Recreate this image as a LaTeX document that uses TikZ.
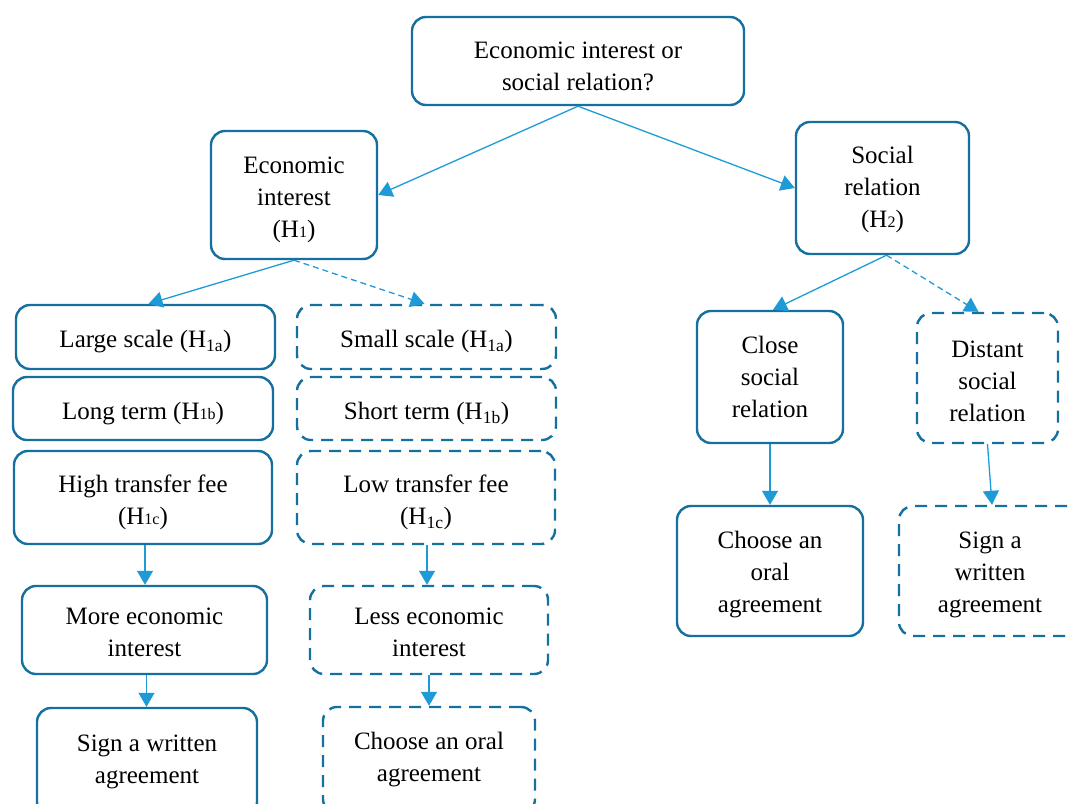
\documentclass[tikz,border=0pt]{standalone}
\usepackage{fontspec}
\setmainfont{Liberation Serif}
\usetikzlibrary{arrows.meta,calc}
\definecolor{boxblue}{HTML}{1570A0}
\definecolor{arrblue}{HTML}{1E9BD7}
\newcommand\fs{\fontsize{25}{32}\selectfont}
\newcommand\sm[1]{{\fontsize{16}{16}\selectfont #1}}
\newcommand\sub[1]{\textsubscript{#1}}
\newcommand\T[1][26pt]{\rule{0pt}{#1}}
\tikzset{
  box/.style={draw=boxblue, line width=2.4pt, rounded corners=14pt, align=center, inner sep=0pt, font=\fs},
  dbox/.style={box, dash pattern=on 12pt off 8pt},
  arr/.style={draw=arrblue, line width=1.3pt, -{Triangle[length=14pt,width=16pt]}},
  darr/.style={arr, dash pattern=on 6pt off 4pt},
}
\begin{document}
\begin{tikzpicture}[x=1pt,y=-1pt]
\useasboundingbox (0,0) rectangle (1070,803);
\node[box, minimum width=332pt, minimum height=88pt] (top) at (578,61) {\T[28pt]Economic interest or\\social relation?};
\node[box, minimum width=166pt, minimum height=128pt] (econ) at (294,195) {\T[27pt]Economic\\interest\\(H\sm{1})};
\node[box, minimum width=173pt, minimum height=132pt] (soc) at (882.5,188) {\T[21pt]Social\\relation\\(H\sm{2})};
\node[box, minimum width=259pt, minimum height=64pt] (ls) at (145.5,337) {\T[27pt]Large scale (H\sub{1a})};
\node[box, minimum width=260pt, minimum height=63pt] (lt) at (143,408.5) {\T[27pt]Long term (H\sm{1b})};
\node[box, minimum width=258pt, minimum height=93pt] (ht) at (143,497.5) {\T[27pt]High transfer fee\\(H\sm{1c})};
\node[box, minimum width=245pt, minimum height=88pt] (me) at (144.5,630) {\T[22pt]More economic\\interest};
\node[box, minimum width=220pt, minimum height=108pt] (sw) at (147,762) {Sign a written\\agreement};
\node[dbox, minimum width=259pt, minimum height=64pt] (ss) at (426.5,337) {\T[27pt]Small scale (H\sub{1a})};
\node[dbox, minimum width=259pt, minimum height=63pt] (st) at (426.5,408.5) {\T[27pt]Short term (H\sub{1b})};
\node[dbox, minimum width=258pt, minimum height=93pt] (lf) at (426,497.5) {\T[27pt]Low transfer fee\\(H\sub{1c})};
\node[dbox, minimum width=238pt, minimum height=88pt] (le) at (429,630) {\T[22pt]Less economic\\interest};
\node[dbox, minimum width=212pt, minimum height=106pt] (co) at (429,760) {Choose an oral\\agreement};
\node[box, minimum width=146pt, minimum height=132pt] (cs) at (770,377) {Close\\social\\relation};
\node[dbox, minimum width=141pt, minimum height=130pt] (ds) at (987.5,378) {\T[23pt]Distant\\social\\relation};
\node[box, minimum width=186pt, minimum height=130pt] (ro) at (770,571) {\T[25pt]Choose an\\oral\\agreement};
\node[dbox, minimum width=182pt, minimum height=130pt] (rs) at (990,571) {\T[25pt]Sign a\\written\\agreement};
\draw[arr] (top.south) -- (econ.east);
\draw[arr] (top.south) -- (soc.west);
\draw[arr] (econ.south) -- ([xshift=3pt]ls.north);
\draw[darr] (econ.south) -- ([xshift=-2pt]ss.north);
\draw[arr] ([xshift=4pt]soc.south) -- ([xshift=3pt]cs.north);
\draw[darr] ([xshift=4pt]soc.south) -- ([xshift=-9pt]ds.north);
\draw[arr] ([xshift=2pt]ht.south) -- ([xshift=2pt]ht.south |- me.north);
\draw[arr] ([xshift=2pt]me.south) -- ([xshift=2pt]me.south |- sw.north);
\draw[arr] ([xshift=1pt]lf.south) -- ([xshift=1pt]lf.south |- le.north);
\draw[arr] (le.south) -- (le.south |- co.north);
\draw[arr] (cs.south) -- (cs.south |- ro.north);
\draw[arr] (ds.south) -- ([xshift=2pt]rs.north);
\end{tikzpicture}
\end{document}
